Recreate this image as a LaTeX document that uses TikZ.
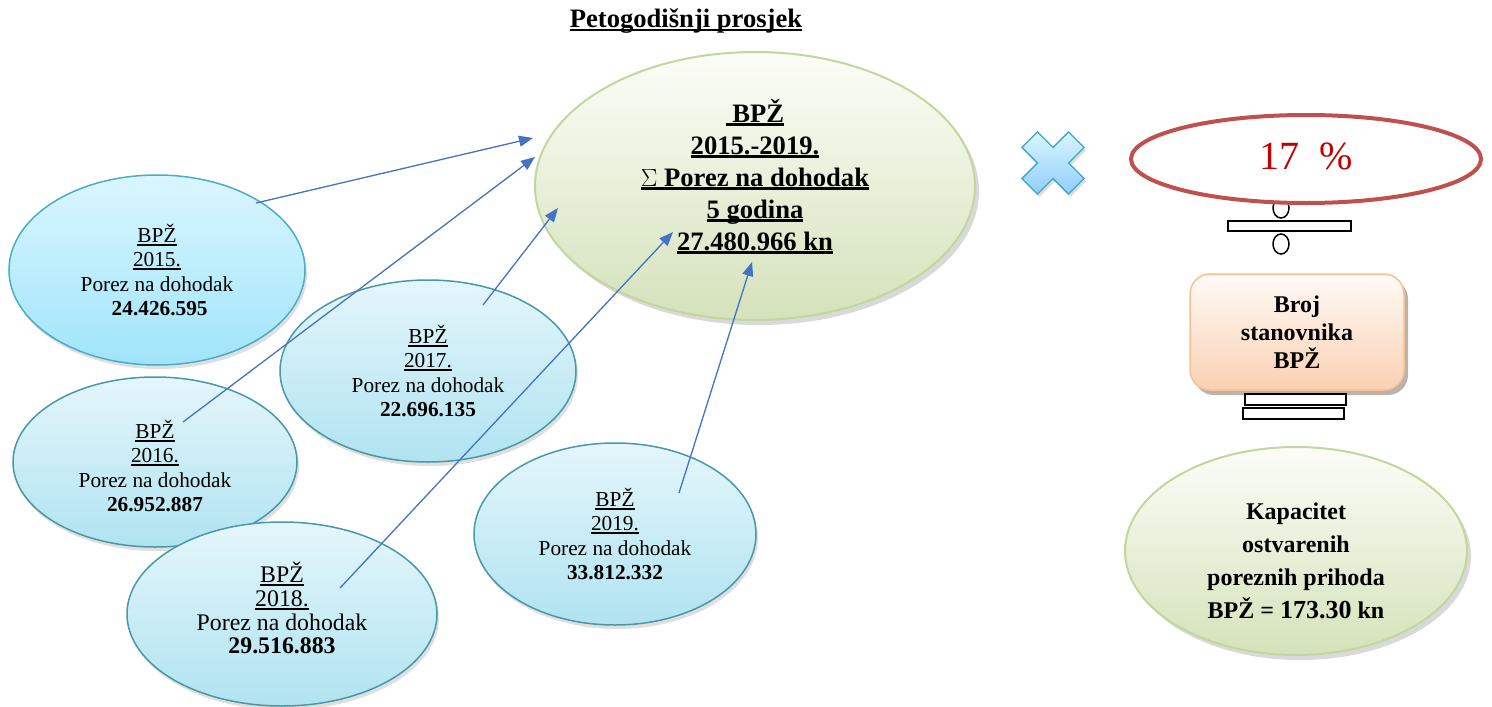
\documentclass[tikz,border=0pt]{standalone}
\usepackage{fontspec}
\setmainfont{Liberation Serif}
\usetikzlibrary{shapes.geometric,shadows,arrows.meta,positioning}

\definecolor{linkblue}{RGB}{68,114,196}
\definecolor{yeartop}{RGB}{228,246,251}
\definecolor{yearbot}{RGB}{176,227,240}
\definecolor{yearline}{RGB}{72,152,168}
\definecolor{firsttop}{RGB}{218,246,255}
\definecolor{firstbot}{RGB}{160,228,250}
\definecolor{firstline}{RGB}{75,172,198}
\definecolor{sumtop}{RGB}{252,253,248}
\definecolor{sumbot}{RGB}{212,226,186}
\definecolor{sumline}{RGB}{195,214,155}
\definecolor{boxtop}{RGB}{255,251,247}
\definecolor{boxbot}{RGB}{250,208,178}
\definecolor{boxline}{RGB}{250,192,143}
\definecolor{ringred}{RGB}{192,80,77}
\definecolor{pctred}{RGB}{192,0,0}

% podcrtano, deblja crta
\newcommand{\bul}[2][1.8pt]{\setbox0\hbox{#2}\leavevmode\rlap{\rule[-3.5pt]{\wd0}{#1}}\box0}

\begin{document}
\begin{tikzpicture}[x=1pt,y=-1pt,
  year/.style={ellipse, draw=yearline, line width=1.5pt, top color=yeartop, bottom color=yearbot,
    inner sep=0pt, align=center, font=\fontsize{21.3}{24.5}\selectfont,
    drop shadow={opacity=0.25, shadow xshift=2pt, shadow yshift=-4pt}},
  sum/.style={ellipse, draw=sumline, line width=2pt, top color=sumtop, bottom color=sumbot,
    inner sep=0pt, align=center,
    drop shadow={opacity=0.3, shadow xshift=4pt, shadow yshift=-5pt}},
  link/.style={linkblue, line width=1.3pt, -{Triangle[length=14pt,width=11pt]}},
  bar/.style={draw, line width=1.5pt, fill=white}]

\useasboundingbox (0,0) rectangle (1492,707);

\node[font=\fontsize{26.6}{30}\selectfont\bfseries] (title) at (686,21) {\bul[2.4pt]{Petogodišnji prosjek}};

% godine
\node[year, draw=firstline, top color=firsttop, bottom color=firstbot,
  minimum width=296pt, minimum height=190pt] (y2015) at (157,270)
  {\bul{BPŽ}\\\bul{2015.}\\Porez na dohodak\\\ \textbf{24.426.595}};
\node[year, minimum width=284pt, minimum height=170pt] (y2016) at (155,462)
  {\rule{0pt}{26pt}\bul{BPŽ}\\\bul{2016.}\\Porez na dohodak\\\textbf{26.952.887}};
\node[year, minimum width=296pt, minimum height=182pt] (y2017) at (428,371)
  {\bul{BPŽ}\\\bul{2017.}\\Porez na dohodak\\\textbf{22.696.135}};
\node[year, minimum width=310pt, minimum height=184pt, font=\fontsize{23.8}{23.8}\selectfont] (y2018) at (282,614)
  {\bul{BPŽ}\\\bul{2018.}\\Porez na dohodak\\\textbf{29.516.883}\rule[-12pt]{0pt}{1pt}};
\node[year, minimum width=282pt, minimum height=182pt] (y2019) at (615,534)
  {\bul{BPŽ}\\\bul{2019.}\\Porez na dohodak\\\textbf{33.812.332}};

% zbroj
\node[sum, minimum width=440pt, minimum height=268pt, font=\fontsize{26.6}{32}\selectfont\bfseries] (total) at (755,186)
  {\bul[2.6pt]{\ BPŽ}\\\bul[2.6pt]{2015.-2019.}\\\bul[2.6pt]{$\Sigma$ Porez na dohodak}\\\bul[2.6pt]{5 godina}\\\bul[2.6pt]{27.480.966 kn}\rule[-23pt]{0pt}{1pt}};

\coordinate (s2015) at ([shift={(99,-67)}]y2015.center);
\coordinate (s2016) at ([shift={(28,-40)}]y2016.center);
\coordinate (s2017) at ([shift={(55,-66)}]y2017.center);
\coordinate (s2018) at ([shift={(58,-26)}]y2018.center);
\coordinate (s2019) at ([shift={(64,-41)}]y2019.center);
\coordinate (t2015) at ([shift={(-222,-48)}]total.center);
\coordinate (t2016) at ([shift={(-220,-29)}]total.center);
\coordinate (t2017) at ([shift={(-197,22)}]total.center);
\coordinate (t2018) at ([shift={(-82,46)}]total.center);
\coordinate (t2019) at ([shift={(-3,76)}]total.center);

\foreach \yr in {2015,2016,2017,2018,2019}
  \draw[link] (s\yr) -- (t\yr);

% puta
\def\a{33}
\def\w{11}
\draw[draw=firstline, line width=1.5pt, top color=firsttop, bottom color=firstbot!90!blue,
  drop shadow={opacity=0.25, shadow xshift=2pt, shadow yshift=-3pt}]
  [shift={(1053,163)}, rotate=45]
  (\w,\w) -- (\w,\a) -- (-\w,\a) -- (-\w,\w) -- (-\a,\w) -- (-\a,-\w)
  -- (-\w,-\w) -- (-\w,-\a) -- (\w,-\a) -- (\w,-\w) -- (\a,-\w) -- (\a,\w) -- cycle;

% podijeljeno
\draw[line width=1.5pt] (1281,208) ellipse (8 and 10);
\draw[bar] (1228,221) rectangle (1351,231);
\draw[line width=1.5pt] (1281,244) ellipse (8 and 10);

\node[ellipse, draw=ringred, line width=4pt, fill=white, minimum width=350pt, minimum height=88pt,
  text=pctred, font=\fontsize{40}{44}\selectfont] (pct) at (1306,159) {17~~\%\rule[-6pt]{0pt}{1pt}};

\node[rectangle, rounded corners=20pt, draw=boxline, line width=1.5pt, top color=boxtop, bottom color=boxbot,
  minimum width=214pt, minimum height=116pt, align=center, font=\fontsize{24}{28}\selectfont\bfseries,
  drop shadow={fill=black!70!brown, opacity=0.35, shadow xshift=4pt, shadow yshift=-5pt}] (people) at (1297,332)
  {Broj\\stanovnika\\BPŽ};

% jednako
\draw[bar] (1245,394) rectangle (1346,405);
\draw[bar] (1243,408) rectangle (1344,419);

\node[sum, minimum width=342pt, minimum height=208pt, font=\fontsize{24}{33}\selectfont\bfseries] (capacity) at (1296,551)
  {\rule{0pt}{36pt}Kapacitet\\ostvarenih\\poreznih prihoda\\BPŽ = {\fontsize{26}{33}\selectfont 173.30} kn};

\end{tikzpicture}
\end{document}
